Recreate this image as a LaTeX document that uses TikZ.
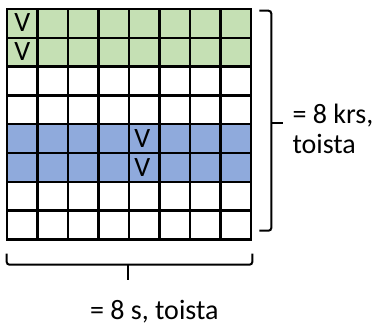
\documentclass[tikz,border=0pt]{standalone}
\usepackage{fontspec}
\setmainfont{Carlito}
\usetikzlibrary{calc}
\definecolor{rowgreen}{RGB}{197,224,180}
\definecolor{rowblue}{RGB}{143,170,220}

\begin{document}
\begin{tikzpicture}[
    x=0.75pt, y=-0.75pt,
    cell/.style={rectangle, draw=black, line width=1.9pt, minimum width=22.875pt, minimum height=21.6pt, inner sep=0pt},
    green row/.style={cell, fill=rowgreen},
    blue row/.style={cell, fill=rowblue},
    white row/.style={cell, fill=white},
    tick/.style={inner sep=0pt, font=\fontsize{21}{21}\selectfont},
    brace/.style={draw=black, line width=1.5pt, rounded corners=2pt},
    note/.style={inner sep=0pt, align=left, font=\fontsize{21}{22.5}\selectfont},
]
\useasboundingbox (0,0) rectangle (381,327);

% Grid of cells
\foreach \r/\kind in {1/green row, 2/green row, 3/white row, 4/white row, 5/blue row, 6/blue row, 7/white row, 8/white row} {
    \foreach \c in {1,...,8} {
        \node[\kind] (c\r\c) at ({7+30.5*(\c-0.5)}, {9+28.8*(\r-0.5)}) {};
    }
}

% Marks
\node[tick] at ($(c11)+(0,-1)$) {V};
\node[tick] at ($(c21)+(0,-1)$) {V};
\node[tick] at ($(c55)+(-2,0)$) {V};
\node[tick] at ($(c65)+(-2,0)$) {V};

% Braces
\coordinate (rtop) at ($(c18.north east)+(7,3)$);
\coordinate (rbot) at ($(c88.south east)+(7,-10)$);
\coordinate (rtip) at ($(c48.south east)+(31,-2.5)$);
\draw[brace] (rtop) -- ++(12,0) |- (rbot);
\draw[brace] ($(rtip)+(-12,0)$) -- (rtip);

\coordinate (bleft) at ($(c81.south west)+(1,13)$);
\coordinate (bright) at ($(c88.south east)+(0,13)$);
\coordinate (btip) at ($(c84.south east)+(-2,39)$);
\draw[brace] (bleft) |- ($(bright)+(0,11)$) -- (bright);
\draw[brace] (btip) -- ++(0,-15);

% Labels
\node[note, anchor=west] (rows) at ($(rtip)+(9,6)$) {= 8 krs,\\toista};
\node[note] (cols) at ($(btip)+(26,32)$) {= 8 s, toista};

\end{tikzpicture}
\end{document}
